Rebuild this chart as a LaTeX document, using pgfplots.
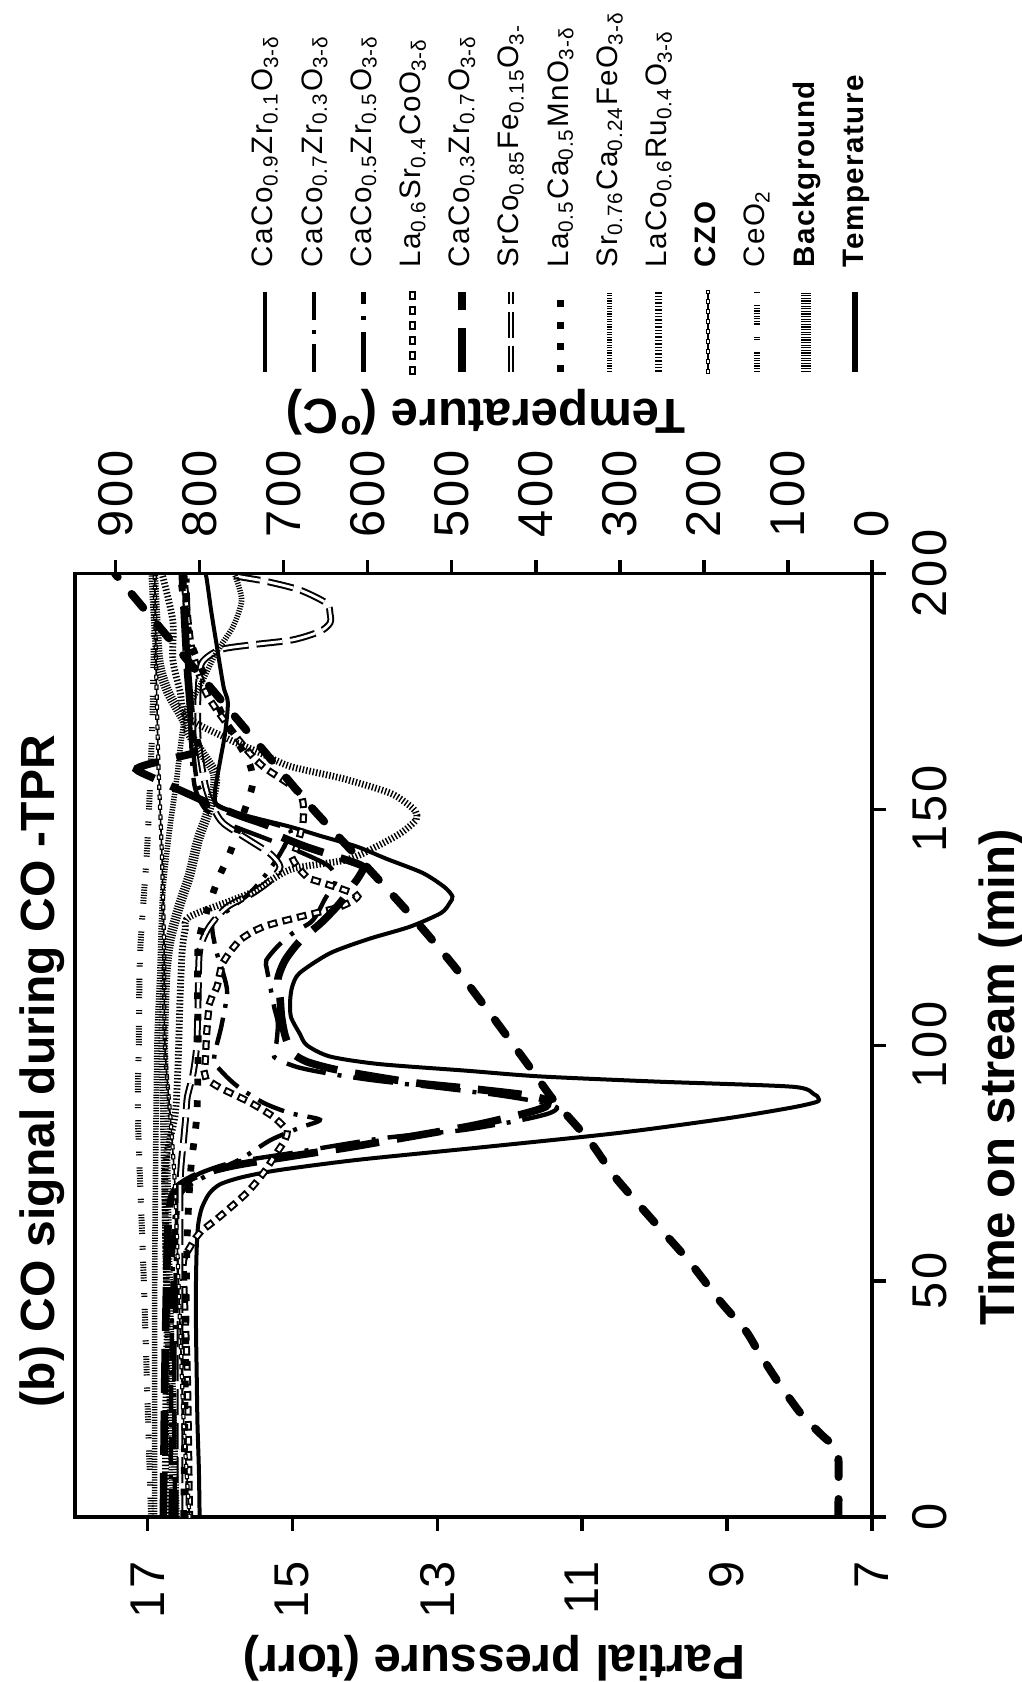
\documentclass[border=0pt]{standalone}
\usepackage{fontspec}
\setmainfont{Liberation Sans}
\newfontfamily\tickfont[LetterSpace=6]{Liberation Sans}
\newfontfamily\legfont[LetterSpace=5]{Liberation Sans}
\usepackage{pgfplots}
\pgfplotsset{compat=1.18}
\newcommand{\sub}[1]{\textsubscript{#1}}
\tikzset{
  hatchline/.style={line width=#1, dash pattern=on 0.3pt off 0.35pt},
  sA/.style={black, line width=1pt},
  sB/.style={black, line width=1.1pt, dash pattern=on 7pt off 2.5pt on 1pt off 2.5pt},
  sC/.style={black, line width=1.1pt, dash pattern=on 10pt off 3pt on 1pt off 3pt},
  sD/.style={black, line width=0.5pt, double=white, double distance=0.8pt, line cap=rect, dash pattern=on 0.6pt off 3.15pt},
  sE/.style={black, line width=1.9pt, dash pattern=on 11pt off 4.5pt},
  sF/.style={black, line width=0.5pt, double=white, double distance=0.7pt, dash pattern=on 6.5pt off 2pt},
  sG/.style={black, line width=1.7pt, dash pattern=on 1.7pt off 3.7pt},
  sH/.style={black, hatchline=1.4pt},
  sI/.style={black, line width=1.7pt, dash pattern=on 0.35pt off 0.5pt},
  sJ/.style={black, line width=0.4pt, postaction={draw=black, line width=0.3pt, double=white, double distance=0.45pt, line cap=rect, dash pattern=on 0.3pt off 2.2pt}},
  sK/.style={black, line width=1.5pt, dash pattern=on 0.3pt off 0.35pt on 0.3pt off 0.35pt on 0.3pt off 0.35pt on 0.3pt off 0.35pt on 0.3pt off 0.35pt on 0.3pt off 0.35pt on 0.3pt off 0.35pt on 0.3pt off 3pt on 0.3pt off 0.35pt on 0.3pt off 3pt},
  sL/.style={black, hatchline=2.4pt},
  sT/.style={black, line width=2pt, line cap=round, dash pattern=on 4.5pt off 5.5pt},
}
\begin{document}
\begin{tikzpicture}
\begin{scope}[transform canvas={rotate=90}]
\begin{axis}[
  scale only axis, width=235.9pt, height=199.25pt,
  xmin=0, xmax=200, ymin=7, ymax=18,
  xtick={0,50,...,200}, ytick={7,9,...,17},
  xtick pos=left, ytick pos=left,
  tick align=outside, major tick length=3.4pt,
  major tick style={black, line width=0.85pt},
  axis line style={line width=0.85pt},
  /pgf/number format/assume math mode=true,
  /pgf/number format/1000 sep={},
  ticklabel style={font=\tickfont\fontsize{12.2}{14}\selectfont, inner sep=0pt},
  yticklabel style={anchor=east, xshift=-7.4pt},
  xticklabel style={anchor=north, yshift=-6.6pt},
  xlabel={Time on stream (min)}, ylabel={Partial pressure (torr)},
  label style={font=\bfseries\fontsize{12.3}{14}\selectfont, inner sep=0pt},
  xlabel style={at={(axis description cs:0.466,-0.1794)}, anchor=base},
  ylabel style={at={(axis description cs:-0.1494,0.474)}, anchor=center},
  title={(b) CO signal during CO -TPR},
  every axis title/.style={at={(axis description cs:0.1155,1.0251)}, anchor=base west, font=\bfseries\fontsize{12}{14}\selectfont, inner sep=0pt},
  legend style={at={(axis description cs:1.2077,0.7804)}, anchor=north west, draw=none, fill=none, inner sep=0pt, row sep=5.2pt, column sep=5pt, nodes={inner sep=0pt, text height=5.5pt, text depth=1.6pt, font=\legfont\fontsize{7.4}{8}\selectfont}},
  legend cell align=left,
  legend image code/.code={\draw[#1] (0pt,0pt) -- (20pt,0pt);},
]
\addplot[sA, smooth, tension=0.45] coordinates {(0,16.28)(10,16.29)(20,16.31)(30,16.32)(40,16.33)(50,16.33)(57,16.32)(62,16.3)(65.5,16.25)(68.5,16.15)(70.5,16.0)(72,15.7)(73.5,15.2)(75.7,14.1)(78.5,12.3)(81.4,10.5)(84.5,9.0)(86.8,8.1)(88.0,7.76)(88.8,7.74)(89.6,7.8)(91.2,8.1)(92.3,10.0)(93.4,11.6)(94.6,12.6)(96,13.8)(97.6,14.48)(100,14.8)(102.5,14.9)(106,15.02)(109.6,15.03)(112.5,15.0)(115.3,14.9)(119.5,14.48)(122.5,13.95)(125.1,13.38)(128,12.95)(130.1,12.83)(131.5,12.79)(133.5,12.9)(136.5,13.2)(139.5,13.7)(142.1,14.11)(144.3,14.6)(146.3,15.03)(148.5,15.6)(150.6,16.02)(153.5,16.07)(160,16.0)(166,15.93)(172.6,15.89)(176,15.95)(185.3,16.05)(192,16.12)(198.6,16.18)(200,16.2)};
\addlegendentry{CaCo\sub{0.9}Zr\sub{0.1}O\sub{3-δ}}
\addplot[sB, smooth, tension=0.45] coordinates {(0,16.68)(30,16.67)(60,16.64)(67,16.58)(70,16.45)(73,16.1)(76,15.7)(79.9,15.3)(82.5,14.9)(84.2,14.62)(85.6,15.03)(87.8,15.4)(91.2,15.75)(94,15.95)(97,16.08)(104,15.98)(111,15.9)(115,15.95)(120,16.05)(125.8,16.1)(129,15.85)(132.2,15.59)(135.5,15.4)(139.3,15.22)(142.5,15.1)(145.6,15.03)(148,15.5)(150.6,16.0)(155,16.3)(170,16.4)(200,16.45)};
\addlegendentry{CaCo\sub{0.7}Zr\sub{0.3}O\sub{3-δ}}
\addplot[sC, smooth, tension=0.45] coordinates {(0,16.62)(30,16.63)(60,16.6)(68,16.55)(72.1,16.37)(75,15.86)(77.1,15.03)(80.3,13.75)(82,12.65)(84.2,11.82)(85.6,11.45)(86.8,11.35)(88,11.6)(89.5,12.2)(91,13.0)(92.6,13.9)(94,14.5)(95.4,14.94)(97.5,15.25)(100.5,15.22)(104.7,15.2)(108,15.25)(112,15.3)(116,15.35)(118,15.36)(121,15.2)(123.8,14.99)(126,14.75)(128,14.65)(131,14.55)(135,14.4)(138,14.5)(141,14.9)(144,15.4)(147,15.9)(150,16.2)(155,16.35)(165,16.4)(180,16.45)(200,16.5)};
\addlegendentry{CaCo\sub{0.5}Zr\sub{0.5}O\sub{3-δ}}
\addplot[sD, smooth, tension=0.45] coordinates {(0,16.42)(30,16.45)(50,16.5)(54.5,16.5)(57,16.42)(60.2,16.28)(63.7,16.0)(68.7,15.63)(72.9,15.4)(77.1,15.22)(80,15.1)(82,15.08)(84.9,15.27)(88,15.6)(91,16.0)(93.3,16.2)(97,16.2)(103,16.18)(109,16.14)(112.4,16.04)(117.4,15.96)(122.3,15.72)(125.1,15.4)(127.2,14.9)(129.3,14.35)(131.5,14.1)(133,14.3)(134.4,14.58)(135.7,14.8)(139.3,14.99)(142,14.94)(147.8,14.85)(153.5,14.9)(159,15.4)(163,15.65)(168,15.9)(175,16.2)(185,16.4)(200,16.5)};
\addlegendentry{La\sub{0.6}Sr\sub{0.4}CoO\sub{3-δ}}
\addplot[sE, smooth, tension=0.45] coordinates {(0,16.78)(30,16.76)(60,16.72)(67,16.68)(70,16.58)(72.5,16.3)(74.5,15.8)(76.5,15.0)(78.4,14.2)(80.6,13.38)(83,12.5)(85.5,11.8)(87,11.5)(88.4,11.5)(89.5,11.8)(90.9,12.6)(92,13.3)(93.7,14.0)(95,14.45)(96.5,14.8)(98.4,15.0)(102,15.1)(106,15.15)(110,15.17)(114,15.2)(118,15.1)(122,14.9)(126,14.6)(130,14.35)(133.8,14.17)(136,14.07)(137.9,14.03)(139.5,14.3)(142,14.8)(144.5,15.2)(146.3,15.3)(148.5,15.7)(150.6,16.05)(153,16.4)(156.5,16.9)(158.4,17.15)(159.5,17.0)(161,16.6)(162.6,16.3)(168,16.38)(180,16.45)(200,16.52)};
\addlegendentry{CaCo\sub{0.3}Zr\sub{0.7}O\sub{3-δ}}
\addplot[sF, smooth, tension=0.45] coordinates {(0,16.55)(40,16.55)(70,16.55)(80,16.5)(85,16.47)(89,16.45)(94,16.37)(100,16.32)(110,16.3)(120,16.28)(125,16.15)(129.3,15.9)(132.2,15.55)(135,15.3)(137.8,15.17)(140.5,15.3)(143.5,15.6)(147,15.95)(150,16.08)(155,16.2)(165,16.3)(175,16.3)(181,16.25)(183.8,16.0)(184.8,15.6)(185.9,15.0)(187.7,14.62)(189.5,14.48)(191.5,14.48)(193.7,14.53)(196.5,14.9)(198.3,15.36)(199.3,15.73)(200,15.9)};
\addlegendentry{SrCo\sub{0.85}Fe\sub{0.15}O\sub{3-}}
\addplot[sG, smooth, tension=0.45] coordinates {(0,16.5)(40,16.47)(60,16.45)(74,16.4)(85,16.32)(100,16.3)(121,16.3)(131.5,16.11)(136.1,16.0)(140.8,15.86)(148,15.7)(155.2,15.55)(160,15.6)(168,15.9)(178,16.2)(186,16.41)(200,16.55)};
\addlegendentry{La\sub{0.5}Ca\sub{0.5}MnO\sub{3-δ}}
\addplot[sH, smooth, tension=0.45] coordinates {(0,16.9)(50,16.9)(99,16.87)(115,16.83)(132,16.79)(145,16.7)(156,16.6)(165,16.53)(171,16.46)(176,16.28)(183.2,16.05)(188.7,15.82)(194.4,15.7)(200,15.8)};
\addlegendentry{Sr\sub{0.76}Ca\sub{0.24}FeO\sub{3-δ}}
\addplot[sI, smooth, tension=0.45] coordinates {(0,16.75)(20,16.75)(40,16.73)(60,16.75)(75,16.75)(85,16.62)(95,16.58)(110,16.55)(120,16.52)(124.4,16.48)(127.3,16.41)(132.2,15.59)(137.2,15.03)(139.3,14.25)(142.1,13.84)(145,13.5)(147.8,13.29)(149.5,13.3)(151,13.4)(153.5,13.66)(156.5,14.3)(159.1,15.03)(162,15.45)(165,15.9)(169.6,16.46)(175,16.55)(181.7,16.65)(190,16.65)(200,16.8)};
\addlegendentry{LaCo\sub{0.6}Ru\sub{0.4}O\sub{3-δ}}
\addplot[sJ, smooth, tension=0.45] coordinates {(0,16.42)(20,16.5)(45,16.56)(70,16.62)(84,16.68)(100,16.76)(120,16.77)(140,16.8)(160,16.85)(180,16.88)(200,16.9)};
\addlegendentry{\bfseries CZO}
\addplot[sK, smooth, tension=0.45] coordinates {(0,16.95)(20,16.99)(50,17.05)(84,17.13)(100,17.12)(120,17.1)(143,17.0)(170,16.93)(200,16.9)};
\addlegendentry{CeO\sub{2}}
\addplot[sL, smooth, tension=0.45] coordinates {(0,16.62)(20,16.66)(40,16.7)(60,16.73)(84,16.76)(100,16.78)(115,16.75)(122.3,16.69)(130,16.55)(136,16.42)(143.5,16.3)(150,16.15)(155,16.07)(158,16.08)(162,16.25)(166,16.42)(169,16.5)(175,16.72)(182,16.85)(200,16.92)};
\addlegendentry{\bfseries Background}
\addlegendimage{black, line width=1.5pt}
\addlegendentry{\bfseries Temperature}
\end{axis}
\begin{axis}[
  scale only axis, width=235.9pt, height=199.25pt,
  xmin=0, xmax=200, ymin=0, ymax=948.4,
  axis y line*=right, axis x line=none,
  ytick={0,100,...,900},
  tick align=outside, major tick length=3.4pt,
  major tick style={black, line width=0.85pt},
  axis line style={line width=0.85pt},
  /pgf/number format/assume math mode=true,
  /pgf/number format/1000 sep={},
  ticklabel style={font=\tickfont\fontsize{12.2}{14}\selectfont, inner sep=0pt},
  yticklabel style={anchor=west, xshift=5.3pt},
  ylabel={Temperature (\textsuperscript{o}C)},
  ylabel style={at={(axis description cs:1.1706,0.484)}, anchor=center, font=\bfseries\fontsize{12.3}{14}\selectfont, inner sep=0pt},
]
\addplot[sT, smooth, tension=0.4] coordinates {(0,40)(12.7,40)(15,45)(17.4,60)(22,85)(28.4,111)(35,135)(39.4,150)(45.8,181)(54.5,219)(62.3,258)(71.9,305)(79.7,336)(88.4,379)(94.8,405)(105.2,448)(116.7,497)(127,546)(137.2,598)(150,665)(165,736)(180,807)(191.2,860)(196.5,885)(200,901)};
\end{axis}
\end{scope}
\pgfresetboundingbox
\useasboundingbox (-218pt,-41.25pt) rectangle (37.25pt,379.25pt);
\end{tikzpicture}
\end{document}
